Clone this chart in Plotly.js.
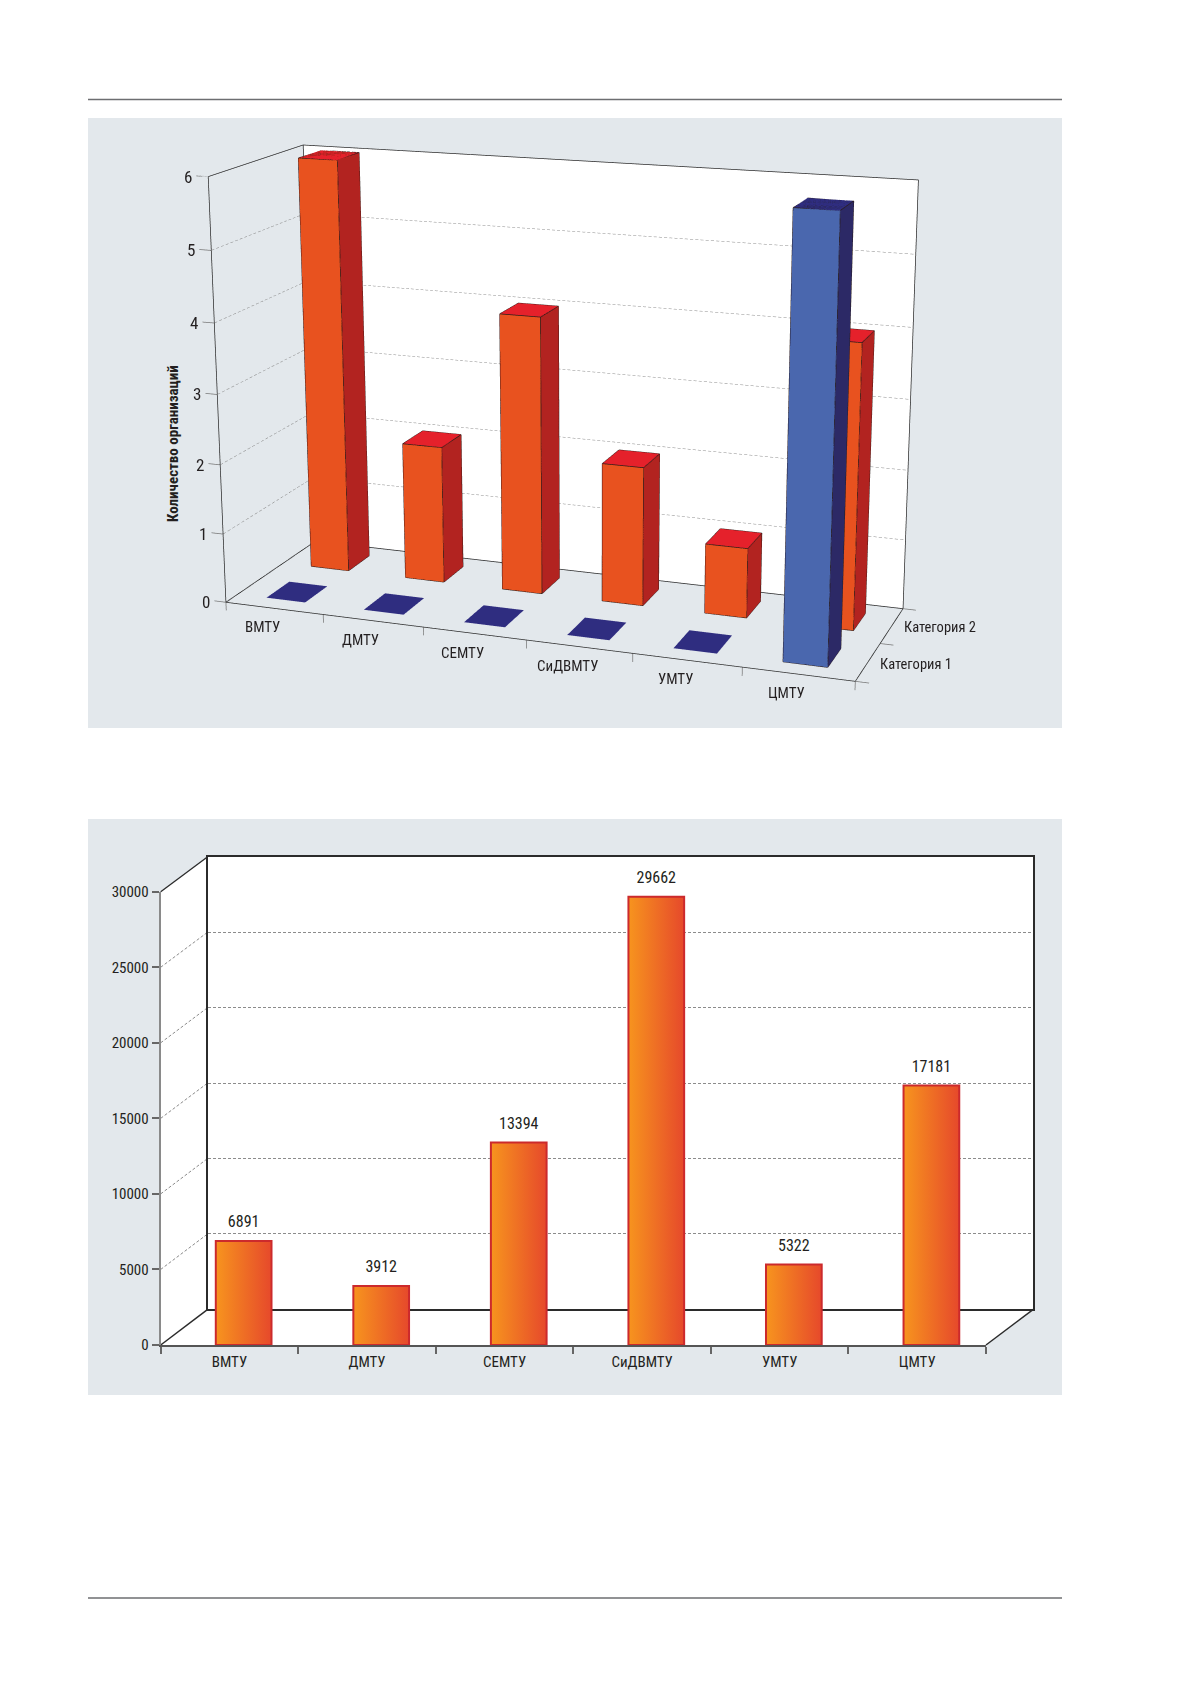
<!DOCTYPE html>
<html>
<head>
<meta charset="utf-8">
<script src="https://cdn.plot.ly/plotly-3.0.1.min.js"></script>
<style>
  html, body { margin: 0; padding: 0; background: #fff; }
  body { position: relative; width: 1179px; height: 1681px; overflow: hidden; }
  #page { position: absolute; left: 0; top: 0; width: 1179px; height: 1681px; z-index: 1; }
  #columns3d { position: absolute; left: 0; width: 1179px; z-index: 2; }
</style>
</head>
<body>
<div id="page"></div>
<div id="columns3d"></div>
<script>
// --- data ---
const REGIONS = ["ВМТУ", "ДМТУ", "СЕМТУ", "СиДВМТУ", "УМТУ", "ЦМТУ"];
const SERIES_NAMES = ["Категория 1", "Категория 2"];
const CAT1_COUNTS = [0, 0, 0, 0, 0, 6];
const CAT2_COUNTS = [6, 2, 4, 2, 1, 4];
const COUNT_TICKS = [0, 1, 2, 3, 4, 5, 6];
const TOTALS = [6891, 3912, 13394, 29662, 5322, 17181];
const TOTAL_TICKS = [0, 5000, 10000, 15000, 20000, 25000, 30000];

// --- page geometry (pixels) ---
const W = 1179, H = 1681;
const px = (x) => x / W;
const py = (y) => 1 - y / H;
const FONT = '"Roboto Condensed", "Liberation Sans Narrow", "DejaVu Sans Condensed", Roboto, sans-serif';
const INK = "#231f20";
const PANEL = "#e3e8ec";
const textFont = (size) => ({ family: FONT, size, color: INK });

// ============ chart 1: 3d columns (own figure, so its camera can sit on the box) ============
const BAR_W = 0.4, BAR_D = 0.5;
const FLAT = { ambient: 1, diffuse: 0, specular: 0, fresnel: 0, roughness: 1 };
const NX = REGIONS.length, NY = SERIES_NAMES.length, ZMAX = 6;

function boxMesh(values, yc, col) {
  const x = [], y = [], z = [], i = [], j = [], k = [], fc = [];
  values.forEach((v, n) => {
    const x0 = n + 0.5 - BAR_W / 2, x1 = n + 0.5 + BAR_W / 2;
    const y0 = yc - BAR_D / 2, y1 = yc + BAR_D / 2;
    const b = x.length;
    [[x0, y0, 0], [x1, y0, 0], [x1, y1, 0], [x0, y1, 0],
     [x0, y0, v], [x1, y0, v], [x1, y1, v], [x0, y1, v]].forEach(p => {
      x.push(p[0]); y.push(p[1]); z.push(p[2]);
    });
    const faces = [
      [0, 1, 5, "front"], [0, 5, 4, "front"],
      [1, 2, 6, "side"], [1, 6, 5, "side"],
      [3, 2, 6, "side"], [3, 6, 7, "side"],
      [0, 3, 7, "side"], [0, 7, 4, "side"],
      [4, 5, 6, "top"], [4, 6, 7, "top"],
      [0, 1, 2, "top"], [0, 2, 3, "top"]
    ];
    faces.forEach(f => { i.push(b + f[0]); j.push(b + f[1]); k.push(b + f[2]); fc.push(col[f[3]]); });
  });
  return {
    type: "mesh3d", x, y, z, i, j, k, facecolor: fc,
    flatshading: true, lighting: FLAT, hoverinfo: "skip", showscale: false
  };
}

function boxEdges(values, yc) {
  const x = [], y = [], z = [];
  const seg = (p, q) => { x.push(p[0], q[0], null); y.push(p[1], q[1], null); z.push(p[2], q[2], null); };
  values.forEach((v, n) => {
    if (v === 0) return;
    const x0 = n + 0.5 - BAR_W / 2, x1 = n + 0.5 + BAR_W / 2;
    const y0 = yc - BAR_D / 2, y1 = yc + BAR_D / 2;
    const c = [[x0, y0, 0], [x1, y0, 0], [x1, y1, 0], [x0, y1, 0],
               [x0, y0, v], [x1, y0, v], [x1, y1, v], [x0, y1, v]];
    [[0, 1], [1, 2], [2, 3], [3, 0], [4, 5], [5, 6], [6, 7], [7, 4], [0, 4], [1, 5], [2, 6], [3, 7]]
      .forEach(e => seg(c[e[0]], c[e[1]]));
  });
  return {
    type: "scatter3d", mode: "lines", x, y, z,
    line: { color: "#2a1c18", width: 1.5 }, hoverinfo: "skip", showlegend: false
  };
}

function lines3d(segs, line) {
  const x = [], y = [], z = [];
  segs.forEach(s => {
    s.forEach(p => { x.push(p[0]); y.push(p[1]); z.push(p[2]); });
    x.push(null); y.push(null); z.push(null);
  });
  return { type: "scatter3d", mode: "lines", x, y, z, line, hoverinfo: "skip", showlegend: false };
}

// split a segment into short dashes (webgl dashes are too coarse)
function dashes(p, q, periods) {
  const segs = [];
  for (let n = 0; n < periods; n++) {
    const a = n / periods, b = (n + 0.6) / periods;
    segs.push([
      [0, 1, 2].map(c => p[c] + (q[c] - p[c]) * a),
      [0, 1, 2].map(c => p[c] + (q[c] - p[c]) * b)
    ]);
  }
  return segs;
}

const backWall = {
  type: "mesh3d",
  x: [0, NX, NX, 0], y: [NY + 0.015, NY + 0.015, NY + 0.015, NY + 0.015], z: [0, 0, ZMAX, ZMAX],
  i: [0, 0], j: [1, 2], k: [2, 3], color: "#ffffff",
  flatshading: true, lighting: FLAT, hoverinfo: "skip", showscale: false
};

const frame = lines3d([
  [[0, 0, ZMAX], [0, NY, ZMAX], [NX, NY, ZMAX], [NX, NY, 0]],
  [[0, NY, 0], [0, NY, ZMAX]],
  [[0, 0, 0], [0, 0, ZMAX]],
  [[0, NY, 0], [NX, NY, 0]],
  [[0, NY, 0], [0, 0, 0], [NX, 0, 0], [NX, NY, 0]]
], { color: "#2b2b2b", width: 1.5 });

const gridLevels = COUNT_TICKS.filter(t => t > 0 && t < ZMAX);
const grid3d = lines3d([
  ...gridLevels.flatMap(t => dashes([0, 0, t], [0, NY, t], 21)),
  ...gridLevels.flatMap(t => dashes([0, NY, t], [NX, NY, t], 120))
], { color: "#8a8a8a", width: 1 });

const ticks3d = lines3d([
  ...COUNT_TICKS.map(t => [[0, 0, t], [-0.12, 0, t]]),
  ...Array.from({ length: NX + 1 }, (_, b) => [[b, 0, 0], [b, 0, -0.12]]),
  ...Array.from({ length: NY + 1 }, (_, b) => [[NX, b, 0], [NX + 0.12, b, 0]])
], { color: "#777777", width: 1.5 });

const ORANGE = { front: "#e8521f", side: "#b22320", top: "#e5212b" };
const BLUE = { front: "#4a67ae", side: "#2c2966", top: "#2f2d80" };

const sceneAnnotations = [
  ...REGIONS.map((r, n) => ({
    x: n + 0.5, y: 0, z: 0, text: r, showarrow: false,
    xshift: -12, yshift: -19, font: textFont(15)
  })),
  ...COUNT_TICKS.map(t => ({
    x: 0, y: 0, z: t, text: String(t), showarrow: false,
    xanchor: "right", xshift: -14, font: textFont(17)
  })),
  ...SERIES_NAMES.map((s, n) => ({
    x: NX, y: n + 0.5, z: 0, text: s, showarrow: false,
    xanchor: "left", xshift: 10, yshift: -2, font: textFont(14.5)
  }))
];

// the 3d figure is as tall as needed for a mild perspective and is centred on the box
const FIG3D_H = 1988;
const BOX_TARGET = { x: 562, y: 402 };
const FIG3D_TOP = BOX_TARGET.y - FIG3D_H / 2;
const FOCAL = FIG3D_H / (2 * Math.tan(Math.PI / 8));
const PX_PER_WORLD = 440;

function cameraFor(azDeg, elDeg, dist, dxPx) {
  const r = Math.PI / 180, A = azDeg * r, E = elDeg * r;
  const eye = [dist * Math.sin(A) * Math.cos(E), -dist * Math.cos(A) * Math.cos(E), dist * Math.sin(E)];
  const dYaw = Math.atan(-dxPx / FOCAL);
  const hx = -Math.sin(A), hy = Math.cos(A);
  const ax = hx * Math.cos(dYaw) + hy * Math.sin(dYaw);
  const ay = -hx * Math.sin(dYaw) + hy * Math.cos(dYaw);
  const axis = [ax * Math.cos(E), ay * Math.cos(E), -Math.sin(E)];
  const center = eye.map((e, n) => e + dist * axis[n]);
  return {
    eye: { x: eye[0], y: eye[1], z: eye[2] },
    center: { x: center[0], y: center[1], z: center[2] },
    up: { x: 0, y: 0, z: 1 },
    projection: { type: "perspective" }
  };
}

const hidden = {
  visible: false, showgrid: false, zeroline: false, showline: false,
  showticklabels: false, showbackground: false, showspikes: false, title: { text: "" }
};

const layout3d = {
  width: W, height: FIG3D_H,
  margin: { l: 0, r: 0, t: 0, b: 0 },
  paper_bgcolor: "rgba(0,0,0,0)",
  showlegend: false,
  font: textFont(16),
  scene: {
    domain: { x: [0, 1], y: [0, 1] },
    bgcolor: "rgba(0,0,0,0)",
    aspectmode: "manual",
    aspectratio: { x: 1.575, y: 0.485, z: 1.028 },
    xaxis: Object.assign({}, hidden, { range: [-0.15, NX + 0.15] }),
    yaxis: Object.assign({}, hidden, { range: [0, NY + 0.02] }),
    zaxis: Object.assign({}, hidden, { range: [-0.15, ZMAX] }),
    camera: cameraFor(20, 15, FOCAL / PX_PER_WORLD, BOX_TARGET.x - W / 2),
    annotations: sceneAnnotations,
    dragmode: false
  }
};

const data3d = [
  backWall,
  grid3d,
  frame,
  ticks3d,
  boxMesh(CAT2_COUNTS, 1.5, ORANGE),
  boxEdges(CAT2_COUNTS, 1.5),
  boxMesh(CAT1_COUNTS, 0.5, BLUE),
  boxEdges(CAT1_COUNTS, 0.5)
];

// ============ page + chart 2: 2d columns with a pseudo-3d frame ============
const F = { l: 160.7, r: 986, t: 891.7, b: 1345 };
const B = { l: 207.7, r: 1033.3, t: 856.7, b: 1309.3 };
const TOTAL_MAX = 30000;
const yFront = (v) => F.b - (v / TOTAL_MAX) * (F.b - F.t);
const yBack = (v) => B.b - (v / TOTAL_MAX) * (B.b - B.t);
const BAR2_OFFSET = 0.103, BAR2_HALF = 0.2025;

const bars2 = TOTALS.map((v, n) => {
  const c = n + BAR2_OFFSET;
  return {
    type: "scatter", xaxis: "x2", yaxis: "y2", mode: "lines",
    x: [c - BAR2_HALF, c - BAR2_HALF, c + BAR2_HALF, c + BAR2_HALF, c - BAR2_HALF],
    y: [0, v, v, 0, 0],
    fill: "toself",
    fillgradient: { type: "horizontal", colorscale: [[0, "#f7941e"], [1, "#e6492b"]] },
    line: { color: "#cc2a2c", width: 2 },
    hoverinfo: "skip", showlegend: false, cliponaxis: false
  };
});

const labels2 = {
  type: "scatter", xaxis: "x2", yaxis: "y2", mode: "markers+text",
  x: TOTALS.map((_, n) => n + BAR2_OFFSET), y: TOTALS,
  marker: { size: 14, opacity: 0 },
  text: TOTALS.map(String), textposition: "top center",
  textfont: textFont(16), cliponaxis: false, hoverinfo: "skip", showlegend: false
};

const backPlaceholder = { type: "scatter", xaxis: "x", yaxis: "y", x: [], y: [], hoverinfo: "skip", showlegend: false };

const line = (x0, y0, x1, y1, color, width, dash) => ({
  type: "line", xref: "paper", yref: "paper", layer: "below",
  x0: px(x0), y0: py(y0), x1: px(x1), y1: py(y1),
  line: { color, width, dash: dash || "solid" }
});
const rect = (x0, y0, x1, y1, fill) => ({
  type: "rect", xref: "paper", yref: "paper", layer: "below",
  x0: px(x0), y0: py(y1), x1: px(x1), y1: py(y0),
  fillcolor: fill, line: { width: 0 }
});

const hexPts = [[F.l, F.t], [B.l, B.t], [B.r, B.t], [B.r, B.b], [F.r, F.b], [F.l, F.b]];
const shapes = [
  line(88, 99.5, 1062, 99.5, "#6d6e71", 1.5),
  rect(88, 118, 1062, 728, PANEL),
  rect(88, 819, 1062, 1395, PANEL),
  line(88, 1598, 1062, 1598, "#6d6e71", 1.5),
  {
    type: "path", xref: "paper", yref: "paper", layer: "below",
    path: "M" + hexPts.map(p => px(p[0]) + "," + py(p[1])).join("L") + "Z",
    fillcolor: "#ffffff", line: { width: 0 }
  },
  ...TOTAL_TICKS.filter(t => t > 0 && t < TOTAL_MAX)
    .map(t => line(F.l, yFront(t), B.l, yBack(t), "#8c8c8c", 1, "3px,2px")),
  line(F.l, F.t, B.l, B.t, "#2b2b2b", 1.3),
  line(F.l, F.b, B.l, B.b, "#2b2b2b", 1.5),
  line(F.r, F.b, B.r, B.b, "#2b2b2b", 1.5)
];

const layoutPage = {
  width: W, height: H,
  margin: { l: 0, r: 0, t: 0, b: 0 },
  paper_bgcolor: "#ffffff",
  plot_bgcolor: "rgba(0,0,0,0)",
  showlegend: false,
  font: textFont(16),
  shapes,
  annotations: [{
    xref: "paper", yref: "paper", x: px(173), y: py(444),
    xanchor: "center", yanchor: "middle",
    text: "<b>Количество организаций</b>", textangle: -90, showarrow: false,
    font: textFont(15)
  }],
  // back wall of chart 2 (drawn first, under the columns)
  xaxis: {
    domain: [px(B.l), px(B.r)], range: [-0.5, NX - 0.5], anchor: "y",
    showgrid: false, zeroline: false, showticklabels: false, ticks: "",
    showline: true, mirror: true, linecolor: "#2b2b2b", linewidth: 1.5, fixedrange: true
  },
  yaxis: {
    domain: [py(B.b), py(B.t)], range: [0, TOTAL_MAX], anchor: "x",
    tickvals: TOTAL_TICKS, showgrid: true, gridcolor: "#8c8c8c", gridwidth: 1, griddash: "3px,2px",
    zeroline: false, showticklabels: false, ticks: "",
    showline: true, mirror: true, linecolor: "#2b2b2b", linewidth: 1.5, fixedrange: true
  },
  // front plane of chart 2 with the visible axes
  xaxis2: {
    domain: [px(F.l), px(F.r)], range: [-0.5, NX - 0.5], anchor: "y2",
    tickmode: "array", tickvals: REGIONS.map((_, n) => n), ticktext: REGIONS,
    ticks: "", ticklabelstandoff: 2, tickfont: textFont(15),
    minor: {
      tickmode: "array", tickvals: Array.from({ length: NX + 1 }, (_, b) => b - 0.5),
      ticks: "outside", ticklen: 7, tickwidth: 1.5, tickcolor: "#666666", showgrid: false
    },
    showgrid: false, zeroline: false,
    showline: true, linecolor: "#555555", linewidth: 2, fixedrange: true
  },
  yaxis2: {
    domain: [py(F.b), py(F.t)], range: [0, TOTAL_MAX], anchor: "x2",
    tickmode: "array", tickvals: TOTAL_TICKS, ticktext: TOTAL_TICKS.map(String),
    ticks: "outside", ticklen: 7, tickwidth: 1.5, tickcolor: "#666666",
    tickfont: textFont(15), showgrid: false, zeroline: false,
    showline: true, linecolor: "#8a8a8a", linewidth: 2, fixedrange: true
  }
};

const dataPage = [backPlaceholder, ...bars2, labels2];

const box3d = document.getElementById("columns3d");
box3d.style.top = FIG3D_TOP + "px";
box3d.style.height = FIG3D_H + "px";

Plotly.newPlot("page", dataPage, layoutPage, { displayModeBar: false });
Plotly.newPlot("columns3d", data3d, layout3d, { displayModeBar: false });
</script>
</body>
</html>
